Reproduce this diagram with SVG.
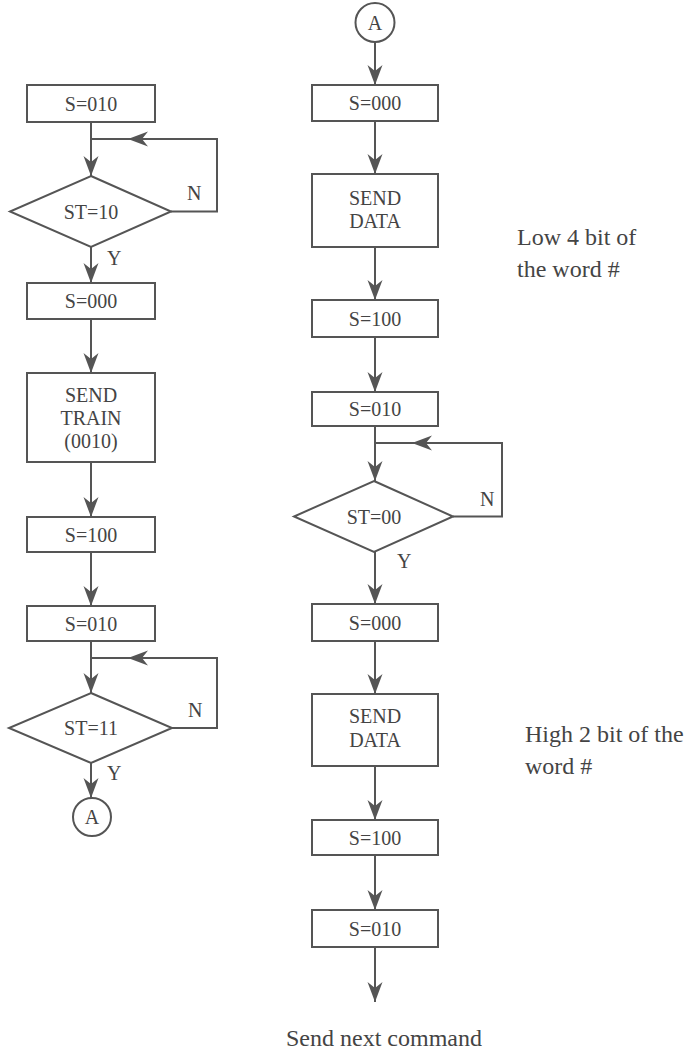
<svg xmlns="http://www.w3.org/2000/svg" width="698" height="1051" viewBox="0 0 698 1051">
<style>
.b{fill:#fff;stroke:#555;stroke-width:2}
.c{fill:none;stroke:#555;stroke-width:2}
.t{font-family:"Liberation Serif","Times New Roman",serif;font-size:20px;fill:#444;text-anchor:middle}
.l{font-family:"Liberation Serif","Times New Roman",serif;font-size:20px;fill:#444}
.a{font-family:"Liberation Serif","Times New Roman",serif;font-size:24px;fill:#444}
</style>
<defs>
<marker id="ah" markerUnits="userSpaceOnUse" viewBox="-21 -9 22 18" markerWidth="22" markerHeight="18" refX="0" refY="0" orient="auto">
<path d="M0,0 L-20,-7.5 L-14,0 L-20,7.5 Z" fill="#555"/>
</marker>
</defs>
<rect width="698" height="1051" fill="#fff"/>
<g id="connectors">
<line class="c" x1="91" y1="122" x2="91" y2="176" marker-end="url(#ah)"/>
<polyline class="c" points="171,211.5 217,211.5 217,139 128,139" marker-end="url(#ah)"/>
<line class="c" x1="128" y1="139" x2="91" y2="139"/>
<line class="c" x1="91" y1="247" x2="91" y2="283" marker-end="url(#ah)"/>
<line class="c" x1="91" y1="319" x2="91" y2="373" marker-end="url(#ah)"/>
<line class="c" x1="91" y1="462" x2="91" y2="517" marker-end="url(#ah)"/>
<line class="c" x1="91" y1="552" x2="91" y2="606" marker-end="url(#ah)"/>
<line class="c" x1="91" y1="641" x2="91" y2="693" marker-end="url(#ah)"/>
<polyline class="c" points="172,728 217,728 217,658 128,658" marker-end="url(#ah)"/>
<line class="c" x1="128" y1="658" x2="91" y2="658"/>
<line class="c" x1="91" y1="763" x2="91" y2="798" marker-end="url(#ah)"/>
<line class="c" x1="375" y1="42" x2="375" y2="85" marker-end="url(#ah)"/>
<line class="c" x1="375" y1="121" x2="375" y2="174" marker-end="url(#ah)"/>
<line class="c" x1="375" y1="247" x2="375" y2="300" marker-end="url(#ah)"/>
<line class="c" x1="375" y1="337" x2="375" y2="392" marker-end="url(#ah)"/>
<line class="c" x1="375" y1="426" x2="375" y2="481" marker-end="url(#ah)"/>
<polyline class="c" points="453,516.5 502,516.5 502,443 412,443" marker-end="url(#ah)"/>
<line class="c" x1="412" y1="443" x2="375" y2="443"/>
<line class="c" x1="375" y1="552" x2="375" y2="604" marker-end="url(#ah)"/>
<line class="c" x1="375" y1="641" x2="375" y2="694" marker-end="url(#ah)"/>
<line class="c" x1="375" y1="766" x2="375" y2="820" marker-end="url(#ah)"/>
<line class="c" x1="375" y1="855" x2="375" y2="910" marker-end="url(#ah)"/>
<line class="c" x1="375" y1="947" x2="375" y2="1002" marker-end="url(#ah)"/>
<text class="l" x="187" y="200">N</text>
<text class="l" x="107" y="265">Y</text>
<text class="l" x="188" y="717">N</text>
<text class="l" x="107" y="780">Y</text>
<text class="l" x="480" y="506">N</text>
<text class="l" x="397" y="568">Y</text>
</g>
<g id="l1"><rect class="b" x="27" y="85" width="128" height="37"/><text class="t" x="91" y="110.5">S=010</text></g>
<g id="l2"><polygon class="b" points="91,176 171,211.5 91,247 10,211.5"/><text class="t" x="91" y="218.5">ST=10</text></g>
<g id="l3"><rect class="b" x="27" y="283" width="128" height="36"/><text class="t" x="91" y="308">S=000</text></g>
<g id="l4"><rect class="b" x="27" y="373" width="128" height="89"/><text class="t" x="91" y="402">SEND</text><text class="t" x="91" y="425">TRAIN</text><text class="t" x="91" y="448">(0010)</text></g>
<g id="l5"><rect class="b" x="27" y="517" width="128" height="35"/><text class="t" x="91" y="541.5">S=100</text></g>
<g id="l6"><rect class="b" x="27" y="606" width="128" height="35"/><text class="t" x="91" y="630.5">S=010</text></g>
<g id="l7"><polygon class="b" points="91,693 172,728 91,763 9,728"/><text class="t" x="91" y="735">ST=11</text></g>
<g id="l8"><circle class="b" cx="92" cy="817" r="19"/><text class="t" x="92" y="824">A</text></g>
<g id="r0"><circle class="b" cx="375" cy="22.5" r="19.5"/><text class="t" x="375" y="29.5">A</text></g>
<g id="r1"><rect class="b" x="312" y="85" width="126" height="36"/><text class="t" x="375" y="110">S=000</text></g>
<g id="r2"><rect class="b" x="312" y="174" width="126" height="73"/><text class="t" x="375" y="205">SEND</text><text class="t" x="375" y="228">DATA</text></g>
<g id="r3"><rect class="b" x="312" y="300" width="126" height="37"/><text class="t" x="375" y="325.5">S=100</text></g>
<g id="r4"><rect class="b" x="312" y="392" width="126" height="34"/><text class="t" x="375" y="416">S=010</text></g>
<g id="r5"><polygon class="b" points="374,481 453,516.5 374,552 294,516.5"/><text class="t" x="374" y="523.5">ST=00</text></g>
<g id="r6"><rect class="b" x="312" y="604" width="126" height="37"/><text class="t" x="375" y="629.5">S=000</text></g>
<g id="r7"><rect class="b" x="312" y="694" width="126" height="72"/><text class="t" x="375" y="723">SEND</text><text class="t" x="375" y="747">DATA</text></g>
<g id="r8"><rect class="b" x="312" y="820" width="126" height="35"/><text class="t" x="375" y="844.5">S=100</text></g>
<g id="r9"><rect class="b" x="312" y="910" width="126" height="37"/><text class="t" x="375" y="935.5">S=010</text></g>
<g id="notes">
<text class="a" x="517" y="245">Low 4 bit of</text>
<text class="a" x="517" y="277">the word #</text>
<text class="a" x="525" y="742">High 2 bit of the</text>
<text class="a" x="525" y="774">word #</text>
<text class="a" x="384" y="1046" text-anchor="middle">Send next command</text>
</g>
</svg>
